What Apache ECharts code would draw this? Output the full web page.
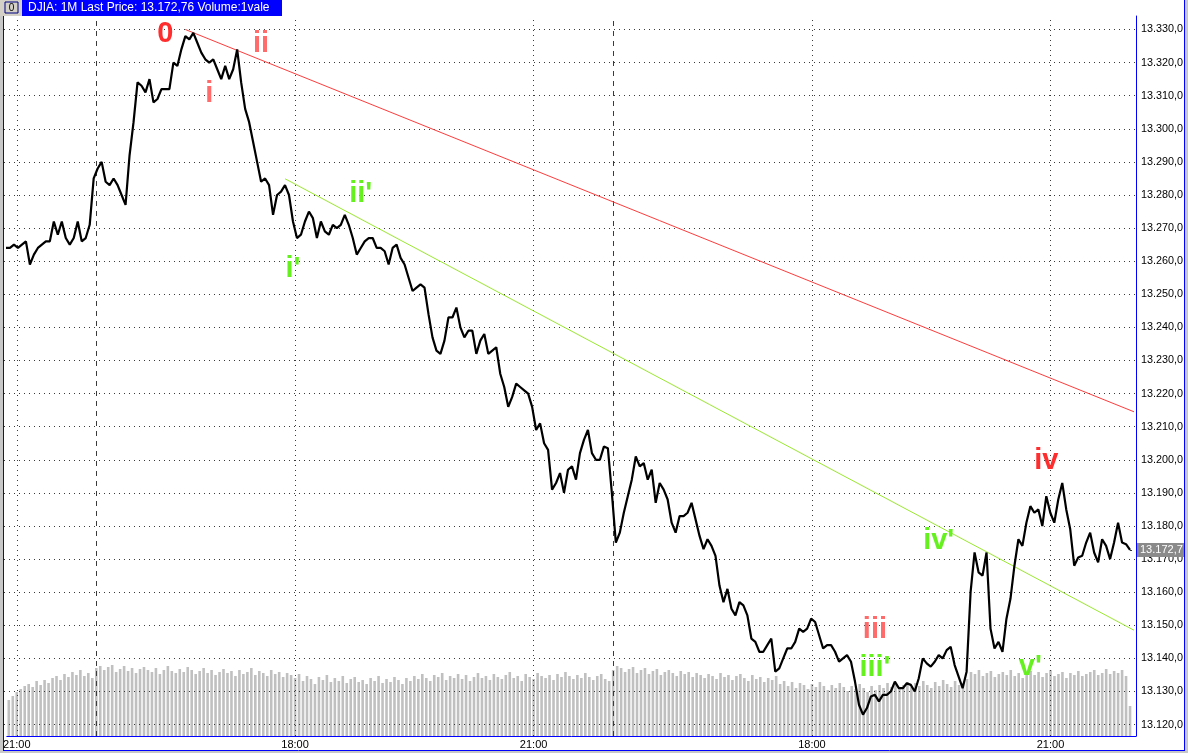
<!DOCTYPE html>
<html><head><meta charset="utf-8">
<script src="https://cdn.jsdelivr.net/npm/echarts@6/dist/echarts.min.js"></script>
<style>html,body{margin:0;padding:0;background:#fff;overflow:hidden}#c{width:1188px;height:753px}</style>
</head><body><div id="c"></div>
<script>
// ---- data ----
const sessions = [['D1','20:54','21:57'],['D2','15:30','21:57'],['D3','15:30','22:03']];
const stepMinutes = 3;
const price = [13264,
13264,13265,13264,13265,13266,13259,13262,13264,13265,13266,13266,13272,13268,13272,13267,13265,13267,13272,13266,13267,13271,
13285,13288,13290,13284,13283,13285,13283,13280,13277,13292,
13302,13314,13313,13311,13315,13308,13309,13312,13312,13312,
13320,13319,13324,13328,13327,13329,13326,13323,13321,13320,
13321,13318,13315,13319,13315,13318,13324,13314,13306,13302,
13296,13290,13284,13285,13283,13274,13280,13281,13283,13280,
13272,13267,13268,13272,13275,13273,13267,13272,13269,13268,
13271,13270,13271,13274,13271,13267,13262,13264,13266,13267,
13267,13264,13264,13263,13259,13264,13265,13261,13259,13255,
13251,13252,13253,13252,13244,13237,13233,13232,13236,13243,
13243,13246,13240,13237,13239,13239,13232,13236,13238,13232,
13233,13234,13226,13222,13216,13219,13223,13222,13221,13220,
13216,13209,13211,13205,13203,13191,13193,13196,13190,13197,
13198,13194,13202,13206,13209,13202,13200,13200,13204,13203.5,
13190,13175,13178,13184,13189,13194,13201,13198,13199,13194,
13197,13187,13193,13191,13188,13181,13178,13183,13183,13184,
13187,13182,13177,13173,13176,13174,13171,13162,13157,13161,
13155,13153,13157,13156,13153,13146,13145,13142,13142,13144,
13146,13136,13137,13140,13143,13143,13145,13149,13148,13149,
13152,13151,13147,13143,13144,13144,13142,13139,13140,13141,
13139,13133,13126,13123,13125,13128.5,13129,13127,13129,13129,
13130,13133,13131,13131,13132.5,13132,13130,13134,13140,13138.5,
13137.5,13139,13141,13140,13142.5,13143.5,13138,13134.5,13131,13136,
13160,13172,13166,13165,13172,13149,13143,13145,13142,13152,
13158,13168,13176,13174,13181,13186,13184,13185,13180,13189,
13184,13181,13188,13193,13185,13179,13168,13170.5,13171,13175,
13178,13172,13169,13176,13174,13170,13175,13181,13175,13174.5,
13172.76, null];
const volume = [
36,40,44,47,50,52,49,55,51,56,53,58,60,56,62,59,64,61,66,60,63,58,
68,70,66,69,71,64,67,70,65,68,63,67,69,66,64,68,62,66,70,65,63,67,64,69,66,62,65,68,63,66,
61,64,67,63,65,60,66,62,64,68,61,65,63,60,66,62,64,59,63,61,
58,62,55,60,57,52,59,56,61,54,58,55,60,53,57,59,54,56,52,58,55,60,53,57,54,59,56,52,58,55,
60,57,62,58,55,61,59,63,56,60,58,62,57,61,55,59,63,58,60,56,62,59,57,61,64,58,60,55,62,59,
57,63,60,58,61,56,62,59,64,60,57,61,58,63,59,56,60,62,57,55,
66,70,68,64,67,69,63,66,68,62,65,67,61,64,66,63,60,65,62,64,59,63,61,58,62,60,57,63,59,61,
56,60,62,58,55,61,57,59,54,58,56,60,
52,55,50,54,48,53,51,47,52,49,54,50,46,51,48,53,49,45,50,47,52,48,44,50,46,51,48,53,49,52,
47,51,54,49,53,50,55,51,48,54,50,56,52,49,55,51,53,57,
64,62,66,60,63,65,59,62,64,61,66,60,63,58,62,65,61,64,59,63,66,60,62,64,58,63,61,65,60,62,
64,66,61,63,67,62,65,63,66,60,30, null];
const tickTimes = ['D1 21:00','D2 18:00','D2 21:00','D3 18:00','D3 21:00'];
const dayStarts = ['D2 15:30','D3 15:30'];
const lastPrice = 13172.76;
const lastPriceLabel = '13.172,7';
const waveText  = ['0','i','ii',"i'","ii'",'iii',"iii'","iv'",'iv',"v'"];
const waveIndex = [40,51,64,72,89,218,218,234,261,257];
const wavePrice = [13328.6,13310.5,13325.6,13257.7,13280.3,13148.6,13137,13175.5,13199.7,13137.4];
const redTrend = [[45,13330],[283,13214.5]];
const greenTrend = [[70,13284.9],[283,13148.5]];

// ---- build ----
function toMin(s){const p=s.split(':');return +p[0]*60+ +p[1];}
function pad(n){return (n<10?'0':'')+n;}
const categories = [];
sessions.forEach(([d,a,b])=>{for(let m=toMin(a);m<=toMin(b);m+=stepMinutes){categories.push(d+' '+pad(Math.floor(m/60))+':'+pad(m%60));}});

function fmtPrice(v){const t=Math.floor(v/1000), r=Math.round(v-t*1000);return t+'.'+String(r).padStart(3,'0')+',0';}
const FONT='"Liberation Sans", Arial, sans-serif';
function waveColor(t){ if(t.indexOf("'")>=0) return '#66f020'; if(t==='0'||t==='iv') return '#ff2d2d'; return '#ff6a6a'; }

const chart = echarts.init(document.getElementById('c'), null, {renderer:'canvas'});
const dotted = {color:'#3a3a3a', width:1, type:[1,4]};
chart.setOption({
  animation:false,
  backgroundColor:'#ffffff',
  textStyle:{fontFamily:FONT},
  grid:[
    {left:4, right:52, top:29.5, bottom:28.4, containLabel:false},
    {left:4, right:52, top:16, bottom:17, containLabel:false}
  ],
  xAxis:[
    {type:'category', gridIndex:0, data:categories, boundaryGap:true, show:false},
    {type:'category', gridIndex:1, data:categories, boundaryGap:true,
     axisLine:{show:true, lineStyle:{color:'#0000ff', width:1}},
     axisTick:{show:false},
     splitLine:{show:false},
     axisLabel:{show:true, interval:(i,v)=>tickTimes.indexOf(v)>=0, formatter:v=>v.slice(3),
       color:'#000', fontSize:11, fontFamily:FONT, margin:3}}
  ],
  yAxis:[
    {type:'value', gridIndex:0, position:'right', min:13120, max:13330, interval:10, z:3,
     axisLine:{show:false}, axisTick:{show:false},
     splitLine:{show:true, lineStyle:dotted},
     axisLabel:{formatter:fmtPrice, color:'#000', fontSize:10.8, fontFamily:FONT, margin:5, align:'left'}},
    {type:'value', gridIndex:1, position:'right', min:0, max:720, show:true,
     axisLine:{show:true, lineStyle:{color:'#0000ff', width:1}}, axisTick:{show:false},
     axisLabel:{show:false}, splitLine:{show:false}}
  ],
  series:[
    {type:'bar', xAxisIndex:1, yAxisIndex:1, data:volume, barWidth:2.6, z:1,
     itemStyle:{color:'#c0c0c0'}, silent:true,
     markLine:{silent:true, symbol:['none','none'], label:{show:false}, animation:false,
       data:[
         ...tickTimes.map(t=>({xAxis:t, lineStyle:{color:'#3a3a3a', width:1, type:[1,4]}})),
         ...dayStarts.map(t=>({xAxis:t, lineStyle:{color:'#3a3a3a', width:1, type:[5,5]}}))
       ]}},
    {type:'line', xAxisIndex:0, yAxisIndex:0, data:price, z:5, clip:false,
     symbol:'none', showSymbol:false, connectNulls:false,
     lineStyle:{color:'#000', width:2.2}, silent:true,
     markLine:{silent:true, symbol:['none','none'], animation:false,
       data:[
         [{coord:redTrend[0], lineStyle:{color:'#ff3c3c', width:1, type:'solid'}, label:{show:false}},{coord:redTrend[1]}],
         [{coord:greenTrend[0], lineStyle:{color:'#9be830', width:1, type:'solid'}, label:{show:false}},{coord:greenTrend[1]}],
         [{coord:[282,lastPrice], lineStyle:{color:'#333', width:1, type:[2,2]},
           label:{show:true, position:'end', distance:3, formatter:lastPriceLabel, color:'#fff', backgroundColor:'#8a8a8a',
                  fontSize:11, fontFamily:FONT, padding:[2,2,1,3]}},{coord:[283,lastPrice]}]
       ]},
     markPoint:{silent:true, symbol:'circle', symbolSize:1, itemStyle:{color:'rgba(0,0,0,0)'}, animation:false,
       data: waveText.map((t,k)=>({name:t, coord:[waveIndex[k], wavePrice[k]],
         label:{show:true, position:'inside', formatter:t, color:waveColor(t), fontSize:29, fontWeight:'bold', fontFamily:FONT}}))}
    }
  ],
  graphic:[
    {type:'rect', shape:{x:0,y:0,width:3,height:753}, style:{fill:'#c8c8c8'}, z:10},
    {type:'line', shape:{x1:3.5,y1:14,x2:3.5,y2:750}, style:{stroke:'#0000ff', lineWidth:1}, z:10},
    {type:'line', shape:{x1:1184.5,y1:0,x2:1184.5,y2:750}, style:{stroke:'#0000ff', lineWidth:1}, z:10},
    {type:'rect', shape:{x:1185,y:0,width:3,height:753}, style:{fill:'#c8c8c8'}, z:10},
    {type:'line', shape:{x1:3,y1:750.5,x2:1185,y2:750.5}, style:{stroke:'#0000ff', lineWidth:1}, z:10},
    {type:'rect', shape:{x:0,y:751,width:1188,height:2}, style:{fill:'#c8c8c8'}, z:10},
    {type:'rect', shape:{x:22,y:0,width:260,height:16}, style:{fill:'#0000ff'}, z:10},
    {type:'rect', shape:{x:0,y:0,width:22,height:16}, style:{fill:'#d4d0c8'}, z:10},
    {type:'rect', shape:{x:5,y:2,width:13,height:11}, style:{fill:'#d4d0c8', stroke:'#000080', lineWidth:1}, z:11},
    {type:'text', x:11.5, y:8, style:{text:'0', fill:'#000', font:'10px '+FONT, align:'center', verticalAlign:'middle'}, z:12},
    {type:'text', x:28, y:8, style:{text:'DJIA: 1M Last Price: 13.172,76 Volume:1vale', fill:'#fff', font:'12px '+FONT, align:'left', verticalAlign:'middle'}, z:12}
  ]
});
</script></body></html>
